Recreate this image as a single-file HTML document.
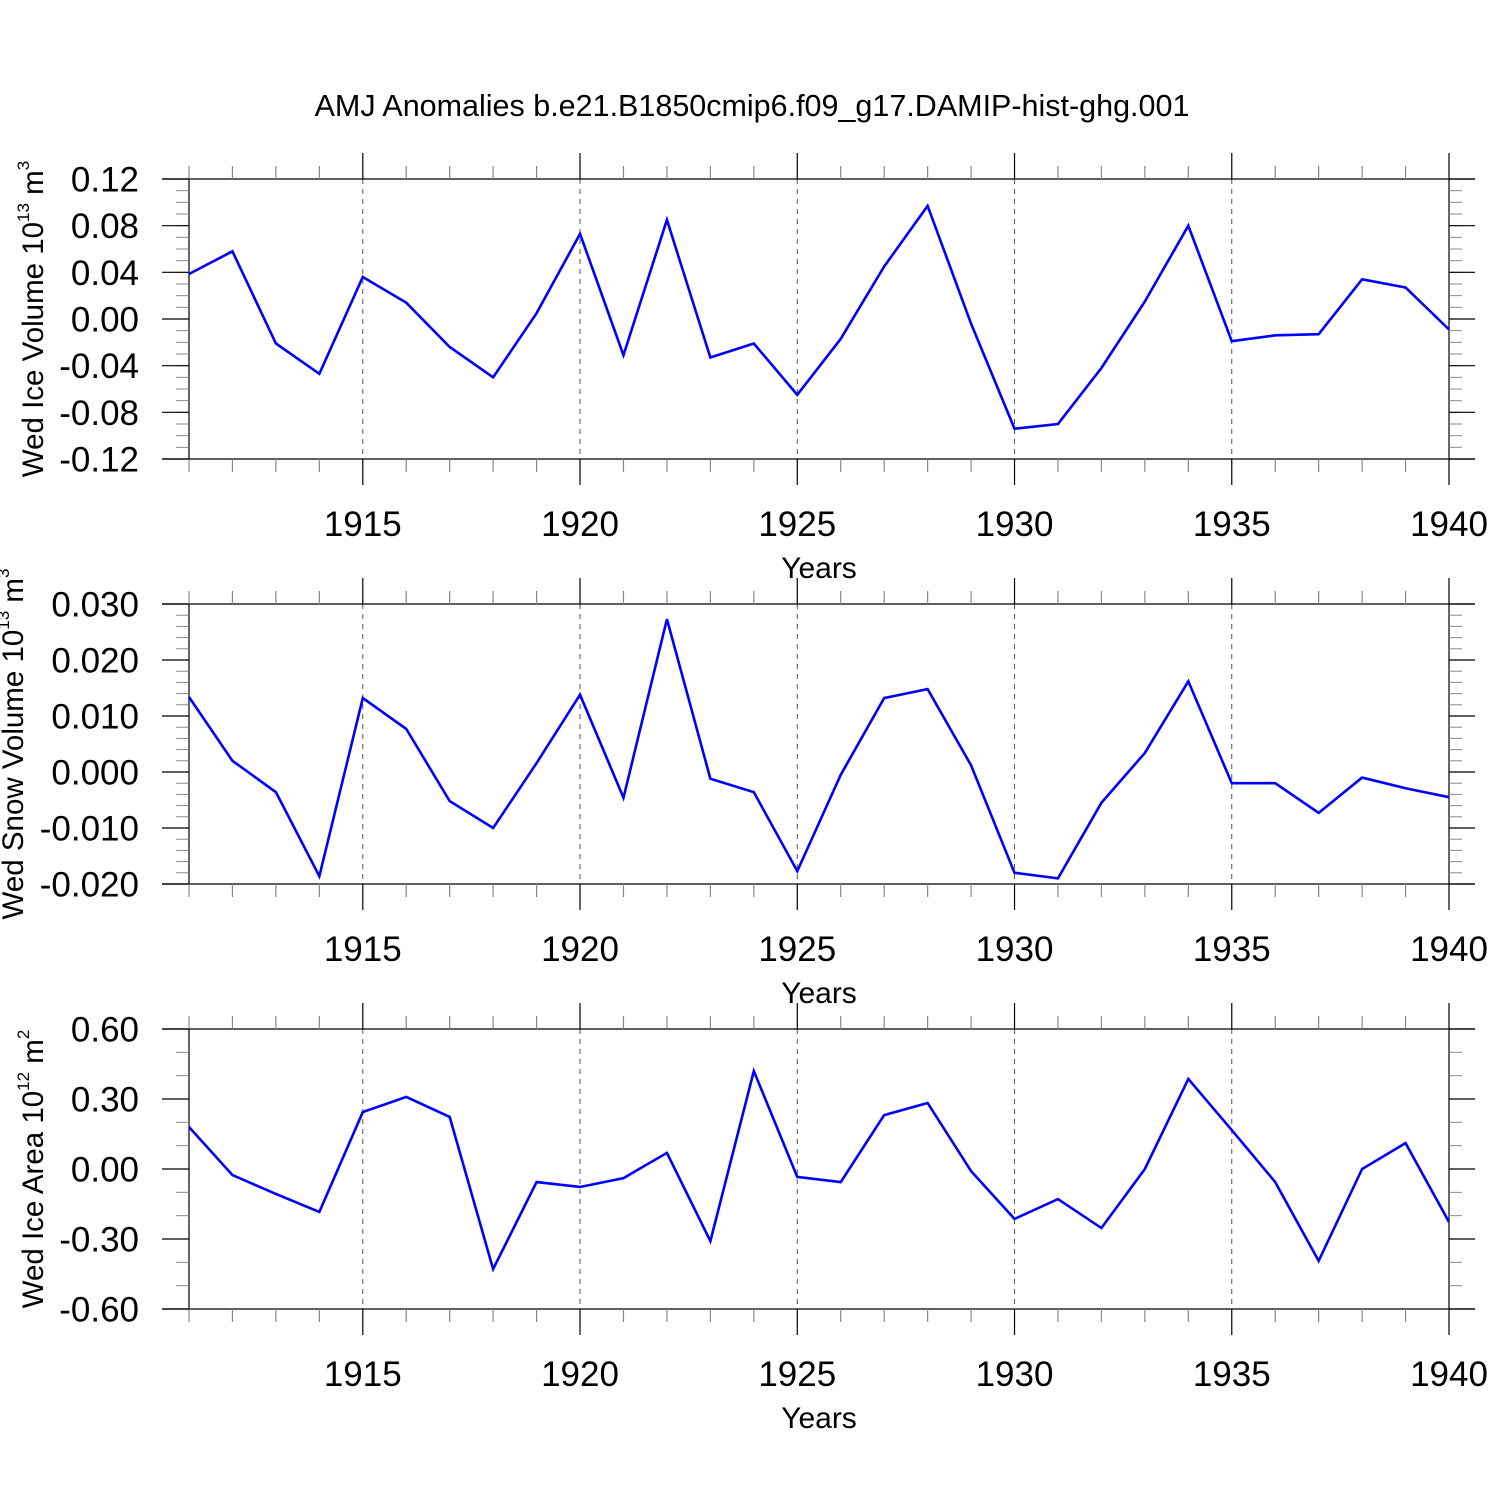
<!DOCTYPE html>
<html><head><meta charset="utf-8"><style>
html,body{margin:0;padding:0;background:#fff}
svg{display:block;font-family:"Liberation Sans",sans-serif}
</style></head><body>
<svg id="c" width="1500" height="1500" viewBox="0 0 1500 1500">
<text x="752" y="116" font-size="30.5" text-anchor="middle">AMJ Anomalies b.e21.B1850cmip6.f09_g17.DAMIP-hist-ghg.001</text>
</svg>
<script>
const years = [1911,1912,1913,1914,1915,1916,1917,1918,1919,1920,1921,1922,1923,1924,1925,1926,1927,1928,1929,1930,1931,1932,1933,1934,1935,1936,1937,1938,1939,1940];
const iceVolume = [0.0386,0.058,-0.021,-0.047,0.036,0.014,-0.024,-0.050,0.005,0.073,-0.031,0.085,-0.033,-0.021,-0.065,-0.017,0.045,0.097,-0.004,-0.094,-0.090,-0.042,0.015,0.080,-0.019,-0.014,-0.013,0.034,0.027,-0.009];
const snowVolume = [0.0134,0.002,-0.0036,-0.0186,0.0132,0.0077,-0.0052,-0.010,0.0016,0.0138,-0.0046,0.0273,-0.0012,-0.0036,-0.0177,-0.0005,0.0132,0.0148,0.0012,-0.018,-0.019,-0.0055,0.0034,0.0162,-0.002,-0.002,-0.0073,-0.001,-0.0029,-0.0045];
const iceArea = [0.18,-0.026,-0.107,-0.184,0.244,0.309,0.223,-0.429,-0.056,-0.077,-0.039,0.069,-0.309,0.42,-0.034,-0.056,0.231,0.283,-0.009,-0.214,-0.129,-0.253,0.0,0.386,0.167,-0.056,-0.394,0.0,0.111,-0.227];
const xTickLabels = ["1915","1920","1925","1930","1935","1940"];
const ticks1 = ["0.12","0.08","0.04","0.00","-0.04","-0.08","-0.12"];
const ticks2 = ["0.030","0.020","0.010","0.000","-0.010","-0.020"];
const ticks3 = ["0.60","0.30","0.00","-0.30","-0.60"];

const NS="http://www.w3.org/2000/svg";
const svg=document.getElementById('c');
function mk(tag,attrs,parent){const e=document.createElementNS(NS,tag);for(const k in attrs)e.setAttribute(k,attrs[k]);(parent||svg).appendChild(e);return e;}
const X0=189,X1=1449,XL=162,XR=1475;
const xs=y=>X0+(y-1911)*(X1-X0)/29;

function panel(top,bot,vals,tickLabs,ymin,ymax,minorStep,ylabel,exp,unit,key,labX){
  const g=mk('g',{});
  
  
  const ys=v=>bot-(v-ymin)*(bot-top)/(ymax-ymin);
  for(let y=1915;y<=1935;y+=5){
    const l=mk('line',{x1:xs(y),x2:xs(y),y1:top,y2:bot,stroke:'#555','stroke-width':1,'stroke-dasharray':'5,5'},g);
    
    
  }
  const st={stroke:'#000','stroke-width':1.2};
  mk('line',Object.assign({x1:XL,x2:XR,y1:top,y2:top},st),g);
  mk('line',Object.assign({x1:XL,x2:XR,y1:bot,y2:bot},st),g);
  mk('line',Object.assign({x1:X0,x2:X0,y1:top,y2:bot},st),g);
  mk('line',Object.assign({x1:X1,x2:X1,y1:top,y2:bot},st),g);
  for(let y=1911;y<=1940;y++){
    const maj=(y%5===0);const L=maj?26:13;const x=xs(y);
    mk('line',{x1:x,x2:x,y1:top-L,y2:top,stroke:maj?'#000':'#888','stroke-width':1.2},g);
    mk('line',{x1:x,x2:x,y1:bot,y2:bot+L,stroke:maj?'#000':'#888','stroke-width':1.2},g);
  }
  xTickLabels.forEach(s=>{
    const t=mk('text',{x:xs(+s),y:bot+77,'font-size':35,'text-anchor':'middle'},g);
    t.textContent=s;
    
    
  });
  const n=Math.round((ymax-ymin)/minorStep);
  for(let i=0;i<=n;i++){
    const yy=ys(ymin+i*minorStep);
    mk('line',{x1:X0-13,x2:X0,y1:yy,y2:yy,stroke:'#888','stroke-width':1},g);
    mk('line',{x1:X1,x2:X1+13,y1:yy,y2:yy,stroke:'#888','stroke-width':1},g);
  }
  tickLabs.forEach(s=>{
    const yy=ys(parseFloat(s));
    mk('line',{x1:XL,x2:X0,y1:yy,y2:yy,stroke:'#000','stroke-width':1.2},g);
    mk('line',{x1:X1,x2:XR,y1:yy,y2:yy,stroke:'#000','stroke-width':1.2},g);
    const t=mk('text',{x:139,y:yy+12.5,'font-size':35,'text-anchor':'end'},g);
    t.textContent=s;
    
    
  });
  const pts=vals.map((v,i)=>xs(years[i])+','+ys(v)).join(' ');
  const p=mk('polyline',{points:pts,fill:'none',stroke:'#0000ff','stroke-width':2.6,'stroke-linejoin':'miter'},g);
  
  
  const xt=mk('text',{x:819,y:bot+119,'font-size':30,'text-anchor':'middle'},g);
  xt.textContent='Years';
  
  
  const cy=(top+bot)/2;
  const yt=mk('text',{x:0,y:0,'font-size':29.5,'text-anchor':'middle',transform:`translate(${labX},${cy}) rotate(-90)`},g);
  
  
  const t1=mk('tspan',{},yt);t1.textContent=ylabel+' 10';
  const t2=mk('tspan',{'font-size':17,dy:-14},yt);t2.textContent=exp;
  const t3=mk('tspan',{dy:14},yt);t3.textContent=' m';
  const t4=mk('tspan',{'font-size':17,dy:-14},yt);t4.textContent=unit;
}
panel(179,459,iceVolume,ticks1,-0.12,0.12,0.01,'Wed Ice Volume','13','3','ice-volume',43);
panel(604,884,snowVolume,ticks2,-0.02,0.03,0.002,'Wed Snow Volume','13','3','snow-volume',23);
panel(1029,1309,iceArea,ticks3,-0.6,0.6,0.1,'Wed Ice Area','12','2','ice-area',43);
</script>
</body></html>
